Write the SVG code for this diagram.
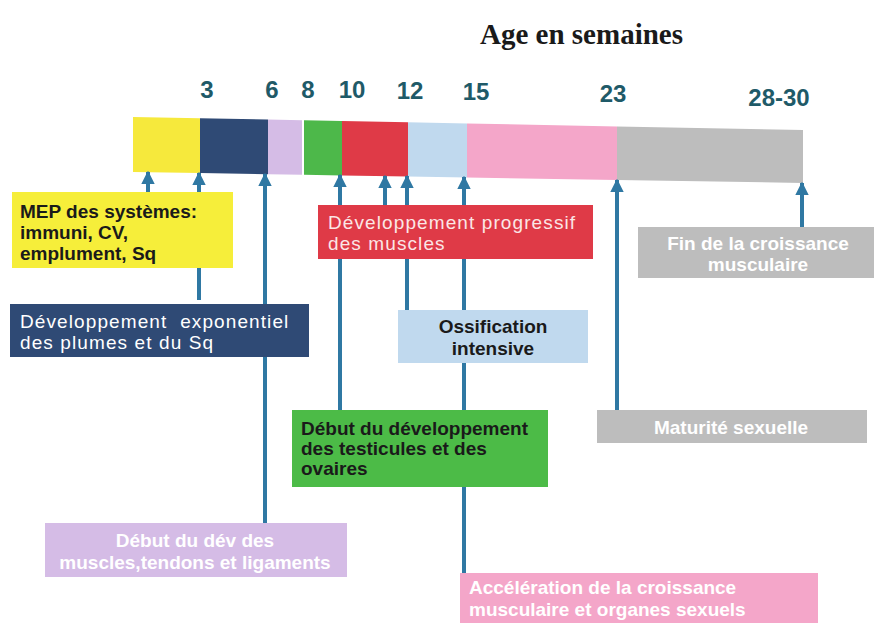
<svg xmlns="http://www.w3.org/2000/svg" width="874" height="626" viewBox="0 0 874 626">
<style>
.num{font-family:"Liberation Sans",Arial,sans-serif;font-weight:bold;font-size:24px;fill:#1f5a68;text-anchor:middle}
.t{font-family:"Liberation Sans",Arial,sans-serif;font-size:19px}
.b{font-weight:bold;fill:#1a1a1a}
.w{fill:#ffffff}
.wb{fill:#ffffff;font-weight:bold}
.c{text-anchor:middle}
.ar{stroke:#2f78a3;stroke-width:4;fill:none}
</style>
<defs>
<marker id="ah" viewBox="0 0 10 10" refX="9" refY="5" markerWidth="3.4" markerHeight="3.4" orient="auto" markerUnits="strokeWidth">
<path d="M0,0 L10,5 L0,10 z" fill="#2f78a3"/>
</marker>
</defs>
<rect width="874" height="626" fill="#ffffff"/>
<text x="480" y="44" font-family="Liberation Serif,Times New Roman,serif" font-weight="bold" font-size="29" fill="#1a1a1a">Age en semaines</text>
<g id="scale">
<text class="num" x="207" y="98">3</text>
<text class="num" x="272" y="98">6</text>
<text class="num" x="308" y="98">8</text>
<text class="num" x="352" y="98">10</text>
<text class="num" x="410" y="99">12</text>
<text class="num" x="476" y="100">15</text>
<text class="num" x="613" y="102">23</text>
<text class="num" x="779" y="106">28-30</text>
</g>
<g id="bar">
<polygon points="133,117 200,118.3 200,173.1 133,172" fill="#f6e93c"/>
<polygon points="200,118.3 268,119.6 268,174.2 200,173.1" fill="#2f4a75"/>
<polygon points="268,119.6 302,120.3 302,174.8 268,174.2" fill="#d5bce6"/>
<polygon points="304,120.3 342,121.1 342,175.4 304,174.8" fill="#4db84a"/>
<polygon points="342,121.1 408,122.3 408,176.5 342,175.4" fill="#df3a47"/>
<polygon points="408,122.3 467,123.5 467,177.5 408,176.5" fill="#c0d9ee"/>
<polygon points="467,123.5 617,126.4 617,179.9 467,177.5" fill="#f4a6c9"/>
<polygon points="617,126.4 803,130 803,183 617,179.9" fill="#bdbdbd"/>
</g>
<g id="connectors">
<line class="ar" x1="148" y1="195" x2="148" y2="172" marker-end="url(#ah)"/>
<line class="ar" x1="199" y1="300" x2="199" y2="173" marker-end="url(#ah)"/>
<line class="ar" x1="265" y1="525" x2="265" y2="174" marker-end="url(#ah)"/>
<line class="ar" x1="340" y1="412" x2="340" y2="175" marker-end="url(#ah)"/>
<line class="ar" x1="385" y1="207" x2="385" y2="176" marker-end="url(#ah)"/>
<line class="ar" x1="407" y1="310" x2="407" y2="176" marker-end="url(#ah)"/>
<line class="ar" x1="464" y1="574" x2="464" y2="177" marker-end="url(#ah)"/>
<line class="ar" x1="617" y1="411" x2="617" y2="180" marker-end="url(#ah)"/>
<line class="ar" x1="802" y1="228" x2="802" y2="183" marker-end="url(#ah)"/>
</g>
<g id="mep">
<rect x="12" y="192" width="221" height="76" fill="#f6ee3a"/>
<text class="t b" x="20" y="218" font-size="20">MEP des systèmes:</text>
<text class="t b" x="20" y="239" font-size="20">immuni, CV,</text>
<text class="t b" x="20" y="260" font-size="20">emplument, Sq</text>
</g>
<g id="plumes">
<rect x="10" y="304" width="299" height="53" fill="#2f4a75"/>
<text class="t w" x="20" y="328" letter-spacing="1.1" style="white-space:pre">Développement  exponentiel</text>
<text class="t w" x="20" y="349" letter-spacing="1.1">des plumes et du Sq</text>
</g>
<g id="muscles">
<rect x="318" y="205" width="275" height="54" fill="#df3a47"/>
<text class="t" fill="#fbe6e6" x="328" y="229" letter-spacing="1.1">Développement progressif</text>
<text class="t" fill="#fbe6e6" x="328" y="250" letter-spacing="1.1">des muscles</text>
</g>
<g id="ossification">
<rect x="398" y="310" width="190" height="53" fill="#c0d9ee"/>
<text class="t b c" x="493" y="333" font-size="19.5">Ossification</text>
<text class="t b c" x="493" y="355" font-size="19.5">intensive</text>
</g>
<g id="fin">
<rect x="638" y="227" width="236" height="51" fill="#bdbdbd"/>
<text class="t wb c" x="758" y="250">Fin de la croissance</text>
<text class="t wb c" x="758" y="271">musculaire</text>
</g>
<g id="maturite">
<rect x="597" y="410" width="270" height="33" fill="#bdbdbd"/>
<text class="t wb c" x="731" y="434">Maturité sexuelle</text>
</g>
<g id="testicules">
<rect x="292" y="410" width="256" height="77" fill="#4cbb47"/>
<text class="t b" x="301" y="435" font-size="19.5">Début du développement</text>
<text class="t b" x="301" y="455" font-size="19.5">des testicules et des</text>
<text class="t b" x="301" y="475" font-size="19.5">ovaires</text>
</g>
<g id="tendons">
<rect x="45" y="523" width="302" height="54" fill="#d5bce6"/>
<text class="t wb c" x="195" y="547">Début du dév des</text>
<text class="t wb c" x="195" y="569">muscles,tendons et ligaments</text>
</g>
<g id="acceleration">
<rect x="460" y="573" width="358" height="50" fill="#f4a6c9"/>
<text class="t wb" x="469" y="594">Accélération de la croissance</text>
<text class="t wb" x="469" y="616">musculaire et organes sexuels</text>
</g>
</svg>
